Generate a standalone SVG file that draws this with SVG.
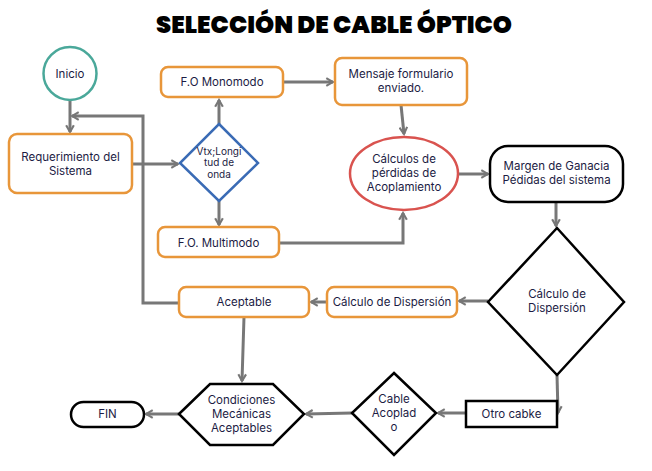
<svg xmlns="http://www.w3.org/2000/svg" width="652" height="471" viewBox="0 0 652 471">
<defs>
<marker id="ah" viewBox="0 0 10 10" refX="8" refY="5" markerWidth="3.2" markerHeight="3.2" orient="auto" markerUnits="strokeWidth">
<path d="M1,1 L8,5 L1,9" fill="none" stroke="#777" stroke-width="2.2" stroke-linejoin="miter"/>
</marker>
</defs>
<style>
.t{font-family:Inter,"Liberation Sans",sans-serif;font-size:11.5px;fill:#1c1c44;text-anchor:middle}
.s{font-size:10px}
.org{fill:#fff;stroke:#e8963a;stroke-width:2.5}
.blk{fill:#fff;stroke:#000;stroke-width:2.5}
.c{fill:none;stroke:#777;stroke-width:3}
.a{marker-end:url(#ah)}
</style>
<rect width="652" height="471" fill="#fff"/>
<text x="334" y="33" font-family="Poppins,Lato,'Liberation Sans',sans-serif" font-weight="900" font-size="25" fill="#000" text-anchor="middle" textLength="356" lengthAdjust="spacingAndGlyphs">SELECCIÓN DE CABLE ÓPTICO</text>

<g id="connectors">
<line class="c a" x1="70" y1="100" x2="70" y2="132"/>
<polyline class="c a" points="179,303 143,303 143,116 72,116"/>
<line class="c a" x1="132" y1="164" x2="178" y2="164"/>
<line class="c a" x1="219" y1="124" x2="219" y2="100"/>
<line class="c a" x1="219" y1="201" x2="219" y2="225"/>
<line class="c a" x1="283" y1="82" x2="333" y2="82"/>
<line class="c a" x1="401" y1="105" x2="404" y2="134"/>
<polyline class="c a" points="279,243 403,243 403,213"/>
<line class="c a" x1="458" y1="174" x2="488" y2="174"/>
<line class="c a" x1="556" y1="202" x2="556" y2="226"/>
<line class="c a" x1="488" y1="301" x2="459" y2="301"/>
<line class="c a" x1="327" y1="302" x2="311" y2="302"/>
<line class="c a" x1="244" y1="317" x2="242" y2="381"/>
<line class="c a" x1="179" y1="414" x2="146" y2="414"/>
<line class="c a" x1="557" y1="375" x2="558" y2="413"/>
<line class="c a" x1="466" y1="413" x2="438" y2="413"/>
<line class="c a" x1="352" y1="413" x2="306" y2="414"/>
</g>

<g id="inicio">
<circle cx="70" cy="73.5" r="26.5" fill="#fff" stroke="#4aa89a" stroke-width="2.5"/>
<text class="t" x="70" y="78" font-size="13.5">Inicio</text>
</g>

<g id="requerimiento">
<rect class="org" x="9" y="134" width="123" height="59" rx="8"/>
<text class="t" x="70.5" y="161">Requerimiento del</text>
<text class="t" x="70.5" y="175">Sistema</text>
</g>

<g id="vtx">
<polygon points="219,124 258,163 219,201 180,163" fill="#fff" stroke="#3a6bb5" stroke-width="2.5"/>
<text class="t s" x="219" y="154.5">Vtx;Longi</text>
<text class="t s" x="219" y="166">tud de</text>
<text class="t s" x="219" y="177.5">onda</text>
</g>

<g id="monomodo">
<rect class="org" x="161" y="67" width="122" height="30" rx="7"/>
<text class="t" x="222" y="86">F.O Monomodo</text>
</g>

<g id="multimodo">
<rect class="org" x="158" y="227" width="121" height="30" rx="7"/>
<text class="t" x="218.5" y="247">F.O. Multimodo</text>
</g>

<g id="mensaje">
<rect class="org" x="335" y="58" width="132" height="47" rx="7"/>
<text class="t" x="401" y="78">Mensaje formulario</text>
<text class="t" x="401" y="92">enviado.</text>
</g>

<g id="calculos">
<ellipse cx="404" cy="173.5" rx="54" ry="36.5" fill="#fff" stroke="#d9534f" stroke-width="2.5"/>
<text class="t" x="404" y="163">Cálculos de</text>
<text class="t" x="404" y="177">pérdidas de</text>
<text class="t" x="404" y="191">Acoplamiento</text>
</g>

<g id="margen">
<rect class="blk" x="490" y="146" width="133" height="56" rx="18"/>
<text class="t" x="556.5" y="170">Margen de Ganacia</text>
<text class="t" x="556.5" y="184">Pédidas del sistema</text>
</g>

<g id="dispersion-decision">
<polygon class="blk" points="557,228 624,302 557,375 488,302"/>
<text class="t" x="557" y="298">Cálculo de</text>
<text class="t" x="557" y="312">Dispersión</text>
</g>

<g id="dispersion">
<rect class="org" x="327" y="287" width="130" height="30" rx="7"/>
<text class="t" x="392" y="306">Cálculo de Dispersión</text>
</g>

<g id="aceptable">
<rect class="org" x="179" y="287" width="130" height="30" rx="7"/>
<text class="t" x="244" y="306">Aceptable</text>
</g>

<g id="condiciones">
<polygon class="blk" points="179,414 210,384 273,384 304,414 273,445 210,445"/>
<text class="t" x="241.5" y="404">Condiciones</text>
<text class="t" x="241.5" y="418">Mecánicas</text>
<text class="t" x="241.5" y="432">Aceptables</text>
</g>

<g id="fin">
<rect class="blk" x="71" y="402" width="73" height="25" rx="12.5"/>
<text class="t" x="107.5" y="418">FIN</text>
</g>

<g id="otro">
<rect class="blk" x="466" y="401" width="91" height="26"/>
<text class="t" x="511.5" y="418">Otro cabke</text>
</g>

<g id="cable-acoplado">
<polygon class="blk" points="394,373 436,413 394,455 352,413"/>
<text class="t" x="394" y="403">Cable</text>
<text class="t" x="394" y="417">Acoplad</text>
<text class="t" x="394" y="431">o</text>
</g>
</svg>
